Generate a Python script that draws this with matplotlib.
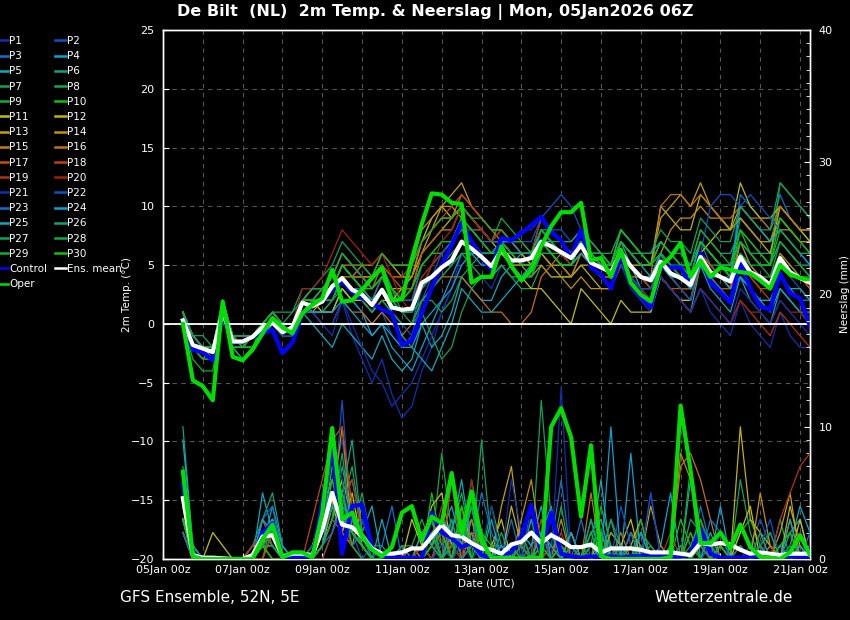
import matplotlib.pyplot as plt
import matplotlib.dates as mdates
from matplotlib.lines import Line2D
from datetime import datetime, timedelta

# 6-hourly output, first step 05Jan 12Z, last 21Jan 06Z
run_start = datetime(2026, 1, 5, 12)
times = [run_start + timedelta(hours=6 * i) for i in range(64)]

# --- main runs: 2m temperature (degC) ---
oper_temp = [0.0, -4.8, -5.3, -6.5, 1.9, -2.8, -3.1, -2.2, -0.8, 0.5, -0.3, -0.8, 0.9, 1.6, 2.2, 4.6,
             1.9, 2.0, 2.9, 3.9, 4.8, 2.0, 2.1, 5.5, 8.5, 11.1, 11.0, 10.3, 10.2, 3.5, 4.0, 4.0,
             6.6, 4.9, 3.7, 4.6, 6.6, 8.3, 9.5, 9.5, 10.3, 5.4, 5.6, 4.0, 6.3, 3.5, 2.5, 1.9,
             4.9, 5.7, 6.9, 4.0, 5.4, 4.0, 4.8, 4.6, 4.4, 4.3, 3.7, 3.0, 5.0, 4.2, 3.9, 3.7]
control_temp = [0.3, -2.2, -2.4, -3.1, 0.6, -1.6, -1.5, -1.1, -0.8, -0.5, -2.5, -1.6, 0.9, 1.5, 1.9, 2.9,
                3.6, 2.7, 2.2, 1.8, 1.2, 0.9, -1.8, -1.4, 0.9, 3.1, 5.0, 6.7, 8.6, 7.0, 5.7, 4.6,
                7.3, 7.1, 7.7, 8.4, 9.1, 7.8, 7.1, 5.6, 8.0, 4.8, 4.2, 3.0, 5.9, 3.5, 2.3, 1.4,
                4.8, 4.8, 4.8, 3.3, 6.0, 3.5, 2.7, 1.8, 5.3, 3.0, 1.5, 1.2, 4.3, 2.6, 2.2, -0.2]
mean_temp = [0.3, -1.8, -2.1, -2.4, 1.0, -1.5, -1.5, -1.1, -0.3, 0.1, -0.7, -0.3, 1.8, 1.5, 1.9, 3.2,
             3.9, 2.9, 2.5, 1.6, 2.9, 1.4, 1.2, 1.3, 3.5, 4.0, 4.8, 5.4, 7.0, 6.4, 5.7, 4.9,
             6.3, 5.4, 5.4, 5.6, 7.0, 6.6, 6.1, 5.6, 6.7, 5.2, 4.8, 4.4, 6.1, 4.9, 4.0, 3.7,
             5.3, 4.3, 3.9, 3.3, 5.7, 4.4, 4.0, 3.6, 5.7, 4.4, 4.0, 3.3, 5.6, 4.4, 3.9, 3.5]

# --- main runs: precipitation (mm / 6h) ---
oper_precip = [6.6, 0.2, 0.0, 0.0, 0.0, 0.0, 0.0, 0.0, 1.5, 2.6, 0.1, 0.5, 0.5, 0.1, 3.5, 9.9,
               3.0, 3.5, 1.7, 0.7, 0.2, 0.9, 3.5, 4.0, 1.4, 3.2, 2.7, 6.5, 1.9, 5.1, 1.4, 0.1,
               0.1, 0.1, 0.0, 0.1, 0.1, 10.0, 11.4, 9.2, 3.2, 8.6, 0.2, 0.0, 0.0, 0.0, 0.0, 0.0,
               0.0, 0.15, 11.6, 6.7, 1.2, 1.2, 2.0, 0.8, 2.6, 0.9, 0.15, 0.1, 0.0, 0.5, 1.8, 0.3]
control_precip = [5.7, 0.4, 0.1, 0.0, 0.0, 0.0, 0.0, 0.0, 2.0, 2.7, 0.0, 0.1, 0.05, 0.0, 4.2, 8.8,
                  0.4, 4.0, 4.1, 0.9, 0.2, 0.1, 0.1, 0.1, 0.0, 3.5, 2.0, 1.6, 0.9, 1.2, 0.3, 0.1,
                  0.2, 0.5, 1.7, 4.1, 0.4, 3.5, 0.4, 0.2, 0.1, 0.2, 0.1, 0.2, 0.1, 0.2, 0.2, 0.3,
                  0.2, 0.2, 0.2, 0.4, 2.3, 0.4, 0.1, 0.1, 0.1, 0.2, 0.1, 0.1, 0.1, 0.2, 0.1, 0.1]
mean_precip = [4.6, 0.3, 0.1, 0.1, 0.05, 0.0, 0.0, 0.3, 1.7, 1.8, 0.2, 0.4, 0.4, 0.3, 2.2, 5.0,
               2.6, 2.4, 1.7, 0.8, 0.4, 0.4, 0.5, 0.8, 0.8, 1.7, 2.6, 1.8, 1.7, 1.2, 0.8, 0.7,
               0.4, 1.1, 1.3, 2.0, 1.2, 1.8, 1.4, 0.9, 0.9, 1.1, 0.5, 0.8, 0.8, 0.8, 0.7, 0.5,
               0.5, 0.5, 0.4, 0.3, 1.2, 1.1, 1.2, 1.1, 0.7, 0.4, 0.5, 0.4, 0.3, 0.4, 0.4, 0.4]

# --- perturbed members P1..P30: 2m temperature ---
member_temp = [
    [1,-2,-3,-3, 2,-1,-2,-2, -1,0,-1,-1, 2,1,0,-1, 2,-1,-3,-5, -3,-6,-8,-7, -4,-2,1,3, 6,5,4,3,
     5,4,4,5, 8,7,6,5, 7,5,4,3, 5,3,2,1, 4,3,2,1, 3,1,0,-1, 2,0,-1,-2, 1,-1,-2,-2],  # P1
    [0,-2,-2,-3, 1,-2,-2,-2, 0,1,0,-1, 2,2,1,1, 3,2,1,0, 1,-1,-2,-1, 2,3,4,5, 7,6,5,5,
     7,6,5,6, 9,8,8,7, 8,6,5,4, 6,5,4,3, 5,4,4,3, 6,5,4,3, 7,5,4,3, 5,4,3,2],  # P2
    [0,-1,-2,-2, 1,-1,-1,-1, 0,0,0,0, 1,1,1,2, 4,3,2,1, 2,1,0,0, 3,5,6,7, 9,8,7,6,
     7,6,5,5, 8,7,6,5, 6,5,4,3, 6,4,3,2, 6,5,4,4, 7,5,4,4, 11,10,9,8, 11,9,8,7],  # P3
    [1,-1,-2,-2, 1,-2,-3,-2, -1,0,0,0, 2,1,1,1, 3,2,1,-1, 0,-2,-3,-4, -2,0,2,4, 6,6,5,5,
     6,5,4,4, 6,6,5,5, 7,6,5,4, 6,5,4,3, 4,3,2,2, 5,4,3,2, 4,3,2,1, 3,2,1,0],  # P4
    [1,-1,-2,-2, 1,-1,-2,-1, 0,0,-1,-1, 1,0,-1,-2, 0,-1,-2,-3, -1,-3,-4,-3, 0,-2,-1,1, 4,3,2,2,
     4,5,6,6, 8,7,6,5, 7,6,5,4, 7,5,3,2, 4,3,2,1, 5,3,2,1, 4,2,1,0, 3,2,1,1],  # P5
    [0,-2,-2,-2, 1,-1,-2,-1, 0,1,0,0, 2,3,3,4, 6,5,4,3, 4,2,1,1, 3,4,5,5, 7,7,6,6,
     7,6,6,6, 8,7,6,6, 7,6,5,5, 8,7,6,5, 7,6,6,5, 8,7,6,6, 8,7,6,6, 9,8,7,6],  # P6
    [1,-1,-1,-2, 2,-1,-2,-1, 0,1,0,1, 3,3,4,5, 7,6,5,4, 5,3,1,0, 1,-1,-3,-2, 1,3,4,4,
     5,4,3,3, 5,4,4,4, 6,5,5,4, 6,5,4,4, 6,5,4,4, 7,6,5,5, 9,8,7,7, 10,9,8,8],  # P7
    [0,-2,-3,-3, 1,-2,-2,-1, 0,0,0,0, 2,2,2,3, 5,4,4,3, 5,3,2,2, 5,6,6,7, 9,8,8,7,
     9,8,7,6, 8,7,6,5, 6,5,4,3, 5,4,3,3, 5,4,3,3, 6,5,5,4, 7,6,5,5, 12,11,10,9],  # P8
    [0,-3,-4,-4, 1,-2,-3,-2, -1,0,-1,-1, 1,1,1,2, 3,2,2,1, 3,2,2,3, 6,7,8,8, 10,9,8,7,
     7,6,5,5, 7,6,5,5, 7,6,5,4, 6,5,4,4, 6,4,3,3, 5,4,3,3, 6,5,4,4, 6,5,4,4],  # P9
    [1,-2,-3,-3, 1,-2,-2,-2, -1,0,-1,-1, 1,2,2,3, 5,4,3,3, 4,3,2,3, 5,6,6,7, 8,7,6,6,
     6,5,5,5, 7,6,6,6, 7,6,6,5, 7,6,5,5, 6,5,4,4, 7,6,5,5, 8,6,5,5, 7,6,5,4],  # P10
    [0,-1,-2,-2, 1,-1,-1,-1, 0,0,0,0, 2,2,1,1, 3,2,2,1, 2,2,3,4, 7,9,10,9, 10,9,8,7,
     6,5,4,3, 3,2,1,0, 3,2,1,0, 2,1,1,1, 4,3,2,2, 6,7,8,8, 12,10,9,9, 10,9,8,7],  # P11
    [0,-2,-2,-2, 1,-1,-1,-1, 0,1,0,0, 2,3,3,3, 5,4,4,4, 6,5,4,4, 6,7,8,9, 10,9,8,7,
     7,6,6,5, 6,5,4,4, 5,4,3,3, 6,5,5,5, 10,9,8,8, 11,10,9,8, 9,8,7,6, 10,9,8,8],  # P12
    [0,-2,-3,-2, 2,-1,-2,-1, 0,0,0,-1, 1,1,2,2, 4,3,3,2, 4,3,3,3, 6,8,10,11, 12,10,9,8,
     8,7,6,5, 6,5,5,4, 5,5,4,4, 7,6,5,5, 9,10,11,10, 12,10,9,8, 10,9,8,7, 9,8,7,7],  # P13
    [1,-1,-2,-2, 2,-1,-1,-1, 0,0,0,0, 2,2,2,2, 4,4,5,5, 6,5,5,5, 8,9,10,10, 9,8,7,6,
     6,5,5,4, 5,4,4,3, 4,3,3,3, 5,4,4,4, 6,8,9,9, 10,9,9,8, 9,8,7,7, 8,8,7,7],  # P14
    [0,-2,-2,-3, 1,-2,-2,-2, -1,0,0,0, 1,2,2,3, 5,5,4,4, 5,4,4,4, 7,8,9,9, 11,10,9,8,
     7,6,5,5, 7,6,5,4, 6,5,4,4, 6,5,4,3, 5,4,4,3, 6,5,4,3, 7,5,4,3, 6,5,4,3],  # P15
    [0,-2,-3,-3, 2,-1,-2,-1, 0,0,-1,0, 2,1,0,0, 2,1,1,0, 1,0,-1,0, 2,3,4,4, 4,3,2,1,
     1,0,0,1, 4,5,6,6, 7,6,5,4, 6,5,4,4, 10,11,11,10, 11,10,9,9, 10,9,9,8, 10,9,8,8],  # P16
    [1,-1,-2,-2, 2,-1,-2,-1, 0,1,0,0, 2,2,3,3, 5,4,4,3, 5,4,3,3, 6,7,8,8, 10,9,8,7,
     8,7,6,6, 8,7,6,5, 6,5,4,4, 5,4,3,3, 4,3,3,2, 5,4,3,3, 5,4,3,3, 5,4,4,3],  # P17
    [1,-1,-2,-2, 2,-1,-1,-1, 0,0,0,0, 2,2,3,4, 6,5,5,4, 5,4,4,5, 7,8,9,10, 11,10,9,8,
     8,7,7,6, 9,8,7,6, 8,6,5,5, 6,5,4,4, 5,4,3,3, 6,5,4,3, 5,4,3,2, 4,3,2,2],  # P18
    [0,-2,-2,-2, 1,-1,-2,-1, 0,0,0,0, 2,2,3,4, 6,5,4,3, 4,3,2,2, 4,5,6,7, 9,8,8,7,
     8,7,6,6, 9,8,7,7, 8,7,6,5, 6,5,4,3, 4,3,2,1, 3,2,1,0, 2,1,0,-1, 1,0,-1,-2],  # P19
    [0,-2,-3,-3, 1,-2,-2,-2, -1,0,0,0, 3,3,4,6, 8,7,6,5, 6,4,2,1, 3,5,7,8, 10,9,8,7,
     7,7,6,6, 8,7,6,5, 6,5,4,3, 5,4,3,2, 4,3,2,1, 3,2,1,0, 2,1,1,0, 2,1,1,0],  # P20
    [1,-2,-3,-3, 1,-2,-2,-1, 0,0,-1,-1, 1,1,0,0, 2,0,-2,-4, -5,-7,-6,-5, -3,-1,1,3, 5,6,6,6,
     7,7,8,8, 9,8,7,6, 7,6,5,4, 5,4,3,3, 4,3,2,1, 3,2,1,0, 3,2,1,0, 2,1,0,-1],  # P21
    [0,-2,-2,-2, 1,-1,-2,-1, 0,0,-1,0, 1,2,2,2, 4,3,2,1, 3,1,0,-1, 2,4,6,7, 9,8,7,6,
     7,7,7,7, 9,10,11,10, 8,6,5,4, 5,4,3,3, 5,4,3,2, 6,10,11,11, 10,11,10,9, 8,7,6,5],  # P22
    [1,-1,-2,-2, 2,-1,-1,-1, 0,1,0,0, 2,2,2,2, 4,3,3,2, 4,3,2,2, 5,6,7,7, 8,8,7,7,
     7,6,6,6, 8,7,6,6, 7,6,5,5, 7,6,5,4, 6,5,4,3, 5,4,3,2, 4,3,2,2, 4,3,2,2],  # P23
    [0,-2,-2,-3, 1,-2,-2,-2, -1,0,0,-1, 1,1,1,1, 2,1,0,-1, 0,-1,-2,-2, 0,1,2,3, 5,6,6,6,
     7,7,6,6, 7,7,6,6, 7,6,6,5, 8,7,6,6, 7,6,5,5, 7,6,5,4, 10,9,8,7, 8,7,6,5],  # P24
    [1,-1,-2,-2, 2,-1,-1,-1, 0,0,0,0, 2,2,2,3, 5,4,3,2, 3,1,-1,-2, -3,-4,-2,0, 3,2,1,1,
     2,3,4,5, 7,6,5,5, 6,5,5,4, 6,5,4,4, 5,4,4,3, 5,4,4,3, 4,3,2,2, 4,3,3,2],  # P25
    [0,-2,-2,-2, 1,-1,-2,-1, 0,0,0,0, 2,2,3,3, 5,4,3,2, 3,2,1,1, 3,4,5,6, 7,7,6,6,
     6,6,6,6, 8,8,7,7, 8,7,6,5, 7,6,5,4, 6,5,5,4, 7,6,5,5, 7,6,6,5, 7,6,5,5],  # P26
    [1,-1,-2,-2, 1,-1,-1,-1, 0,1,1,1, 2,3,3,4, 6,5,4,3, 4,2,1,1, 2,2,1,2, 4,5,6,6,
     7,6,6,6, 8,7,6,6, 8,7,6,6, 8,7,6,6, 8,7,7,6, 9,8,7,7, 10,9,8,8, 12,11,10,9],  # P27
    [0,-2,-2,-2, 1,-2,-2,-1, 0,0,0,0, 1,2,2,2, 4,3,2,1, 2,1,0,0, 2,3,4,5, 6,5,4,4,
     5,4,4,4, 6,6,5,5, 7,6,6,5, 7,6,5,5, 6,5,4,4, 7,6,5,4, 6,5,5,4, 7,6,5,4],  # P28
    [0,-2,-3,-3, 2,-1,-2,-1, 0,1,0,0, 2,2,3,4, 6,5,5,4, 6,5,5,5, 7,8,9,9, 10,9,9,8,
     8,7,7,6, 8,7,7,6, 7,6,6,5, 7,6,6,5, 7,6,5,5, 8,7,6,5, 7,6,5,5, 8,7,6,6],  # P29
    [1,-2,-2,-2, 1,-2,-2,-2, 0,0,0,0, 2,2,2,3, 5,4,3,3, 4,3,2,3, 5,6,7,7, 9,8,7,6,
     6,6,5,5, 7,6,5,5, 7,6,5,5, 8,7,6,5, 7,6,5,4, 7,6,5,4, 8,7,6,5, 9,8,7,6],  # P30
]

# --- perturbed members P1..P30: precipitation ---
member_precip = [
    [3,0,0,0, 0,0,0,1, 2,1,0,0, 0,0,2,6, 9,3,1,0, 0,0,1,0, 0,1,2,1, 0,0,1,0,
     0,0,1,3, 1,0,0,1, 0,0,2,1, 0,0,0,1, 0,0,0,0, 0,1,2,0, 0,0,1,0, 0,0,0,1],
    [4,1,0,0, 0,0,0,0, 1,3,0,0, 0,0,1,3, 12,2,1,1, 0,0,0,0, 1,0,3,1, 2,1,0,0,
     0,0,0,0, 1,2,0,0, 0,0,1,0, 0,0,0,0, 0,0,1,0, 0,0,0,0, 0,1,3,1, 0,0,0,0],
    [2,0,0,0, 0,0,0,0, 3,2,0,0, 0,1,3,5, 2,4,1,0, 0,0,0,1, 0,2,1,3, 0,1,0,0,
     0,1,0,0, 2,1,6,0, 0,0,0,2, 1,0,0,0, 0,0,0,0, 4,1,0,0, 1,0,0,2, 0,0,1,0],
    [5,1,0,0, 0,0,0,0, 1,4,1,0, 0,0,1,4, 6,2,3,1, 0,0,0,0, 1,0,2,4, 1,3,1,0,
     0,1,1,0, 2,4,0,1, 0,3,0,1, 0,8,0,0, 1,5,0,0, 2,0,1,0, 0,0,0,1, 0,2,3,0],
    [2,0,0,0, 0,0,0,0, 5,2,0,0, 0,0,0,2, 5,6,2,4, 0,0,1,0, 0,0,0,2, 1,4,0,0,
     1,0,0,3, 0,1,0,0, 0,1,6,0, 0,2,0,0, 0,0,0,6, 0,1,2,0, 0,0,0,0, 0,1,4,2],
    [10,1,0,0, 0,0,0,1, 3,5,1,0, 0,0,1,3, 7,3,2,1, 1,0,0,0, 1,2,3,1, 0,2,0,1,
     0,0,1,0, 0,1,0,1, 0,0,0,0, 0,0,2,1, 0,0,0,3, 2,0,0,0, 0,0,0,0, 1,0,0,0],
    [3,0,0,0, 0,0,0,0, 2,1,0,0, 0,0,4,8, 3,2,5,1, 0,0,0,0, 0,2,1,0, 2,0,9,1,
     1,0,0,0, 12,3,1,0, 0,0,0,0, 0,1,0,0, 0,0,0,0, 0,0,1,0, 6,2,0,0, 1,2,0,0],
    [4,1,0,0, 0,0,0,0, 1,1,0,0, 0,0,2,5, 4,7,2,0, 0,0,1,1, 3,1,8,2, 5,1,0,0,
     0,0,2,1, 2,0,4,0, 0,0,0,3, 1,0,2,0, 0,0,0,1, 3,0,0,0, 0,0,1,0, 0,0,0,0],
    [6,0,0,0, 0,0,0,0, 0,3,0,0, 0,0,1,3, 5,2,1,0, 0,0,0,0, 0,3,1,2, 1,6,2,0,
     0,0,0,0, 1,0,0,0, 1,0,4,1, 0,0,0,0, 0,1,0,7, 1,0,0,0, 0,0,0,0, 3,0,1,0],
    [3,0,0,0, 0,0,0,0, 2,3,0,0, 0,1,3,8, 3,4,1,0, 0,0,0,0, 0,5,1,0, 2,3,0,4,
     1,0,0,0, 2,0,1,0, 0,1,2,0, 0,0,0,0, 0,0,3,1, 0,0,0,0, 2,3,1,0, 0,0,0,0],
    [2,0,0,2, 1,0,0,0, 1,2,0,0, 0,0,2,4, 2,5,1,0, 0,0,0,3, 1,4,5,1, 0,2,0,1,
     3,0,2,0, 0,1,0,2, 0,0,0,0, 1,3,0,0, 0,0,1,0, 0,0,0,0, 2,4,0,0, 1,0,3,0],
    [3,1,0,0, 0,0,0,0, 1,1,0,0, 0,0,1,3, 6,3,2,0, 0,0,0,0, 0,1,3,0, 4,1,0,0,
     0,4,1,0, 0,0,0,0, 0,0,2,0, 0,1,3,0, 0,0,0,0, 0,0,0,0, 10,3,2,1, 0,4,1,0],
    [2,0,0,0, 0,0,0,1, 1,3,0,0, 0,0,3,9, 2,1,4,1, 0,0,0,0, 1,0,2,0, 1,5,2,0,
     4,7,1,0, 0,0,0,2, 0,0,1,0, 0,0,0,4, 1,0,0,0, 0,0,1,0, 0,0,0,0, 2,5,0,0],
    [4,0,0,0, 0,0,0,0, 1,0,0,0, 0,0,1,4, 10,2,1,0, 0,0,0,0, 0,1,3,0, 1,2,0,0,
     1,0,3,6, 1,0,0,0, 0,0,0,2, 1,0,0,0, 0,0,0,0, 1,0,2,0, 0,0,5,1, 0,0,0,0],
    [3,1,0,0, 0,0,0,0, 0,2,0,0, 0,1,4,6, 3,2,1,0, 0,0,0,0, 2,3,0,1, 2,0,0,0,
     0,1,0,0, 0,0,3,0, 0,0,0,0, 0,2,1,0, 0,0,8,6, 2,0,0,0, 0,0,0,0, 0,3,0,0],
    [2,0,0,0, 0,0,0,0, 1,2,0,0, 0,0,2,10, 3,1,0,0, 0,0,0,1, 0,0,2,0, 0,3,0,0,
     0,0,1,2, 0,0,0,0, 0,5,0,0, 2,0,1,0, 0,0,7,8, 6,3,0,0, 0,0,0,1, 0,0,0,0],
    [5,0,0,0, 0,0,0,0, 3,1,0,0, 0,0,1,3, 2,1,2,0, 0,0,0,0, 0,3,0,1, 0,2,1,0,
     0,0,0,1, 2,0,0,0, 1,0,0,0, 0,1,0,0, 0,0,0,2, 0,1,0,0, 0,0,2,0, 0,0,1,0],
    [3,0,0,0, 0,0,0,0, 0,2,0,0, 0,3,6,9, 10,4,1,0, 0,0,0,0, 0,3,0,6, 0,1,2,0,
     0,0,1,0, 3,0,0,0, 0,1,0,0, 0,0,0,0, 0,0,1,0, 3,0,0,0, 1,0,0,0, 0,0,0,0],
    [2,0,0,0, 0,0,0,1, 2,1,0,0, 0,0,0,2, 4,6,2,0, 0,0,0,0, 0,1,4,0, 0,1,0,0,
     0,0,0,0, 1,0,2,0, 0,0,0,0, 0,1,0,0, 0,2,0,0, 1,0,0,0, 0,0,0,0, 3,5,7,8],
    [4,0,0,0, 0,0,0,0, 1,1,0,0, 0,0,5,8, 3,1,0,0, 0,0,0,0, 1,0,2,1, 0,6,0,0,
     0,0,1,0, 0,1,0,0, 0,0,0,0, 1,0,0,0, 0,0,1,0, 0,0,0,0, 0,0,1,0, 0,1,2,0],
    [5,1,0,0, 0,0,0,0, 2,1,0,0, 0,0,2,9, 6,2,3,1, 0,0,0,0, 0,2,1,0, 1,0,1,4,
     0,6,2,0, 0,0,13,0, 0,2,1,0, 0,0,0,5, 0,0,0,0, 0,0,2,0, 1,0,0,0, 0,1,0,0],
    [3,0,0,0, 0,0,0,0, 1,2,0,0, 0,1,2,4, 5,2,0,1, 0,0,0,0, 0,0,1,0, 0,1,2,0,
     0,0,0,4, 1,3,0,0, 0,0,0,0, 4,1,0,5, 0,0,0,0, 0,1,2,0, 0,0,1,3, 0,0,0,0],
    [2,0,0,0, 0,0,0,0, 3,4,0,0, 0,0,1,2, 4,1,2,0, 1,4,0,0, 0,1,0,0, 2,1,5,2,
     0,3,0,1, 2,0,1,0, 3,0,1,0, 0,2,0,0, 0,0,0,0, 0,3,2,0, 0,0,0,0, 1,0,0,2],
    [3,0,0,0, 0,0,0,0, 2,3,1,0, 0,0,1,5, 4,3,1,0, 0,0,0,0, 2,1,3,2, 1,4,1,0,
     1,0,2,1, 4,0,0,2, 0,1,0,10, 0,0,2,0, 0,0,0,0, 0,0,4,0, 0,0,1,0, 0,0,1,0],
    [9,1,0,0, 0,0,0,0, 3,2,0,0, 0,0,2,7, 5,2,1,0, 3,0,0,0, 0,1,0,2, 6,1,0,3,
     0,1,0,0, 2,1,0,0, 0,2,3,0, 1,0,0,0, 0,0,0,0, 0,2,0,0, 0,0,0,0, 0,3,0,0],
    [3,0,0,0, 0,0,0,0, 1,1,0,0, 0,0,2,4, 5,9,2,1, 0,0,0,0, 0,2,0,3, 0,1,0,0,
     2,0,0,0, 1,2,0,0, 0,0,0,3, 0,0,1,0, 0,1,0,0, 0,0,0,0, 1,0,2,0, 0,0,0,0],
    [4,0,0,0, 0,0,0,0, 2,1,0,0, 0,0,1,3, 8,2,1,0, 0,0,0,0, 0,1,0,1, 3,0,0,0,
     0,0,1,0, 0,0,0,1, 0,3,0,0, 0,0,0,1, 0,0,0,0, 1,0,0,0, 0,0,0,0, 0,1,0,0],
    [3,1,0,0, 0,0,0,0, 2,2,0,0, 0,0,2,5, 3,3,1,0, 0,0,0,0, 0,3,0,1, 2,4,0,1,
     0,0,2,0, 0,0,0,0, 0,1,2,0, 0,0,3,0, 0,0,1,0, 0,0,0,0, 0,0,1,2, 0,0,0,0],
    [7,0,0,0, 0,0,0,0, 1,2,0,0, 0,0,1,3, 5,1,0,0, 0,0,0,0, 0,2,0,0, 3,1,2,0,
     0,1,0,0, 0,0,1,0, 0,0,0,0, 0,0,0,0, 0,0,0,0, 3,1,0,0, 0,0,0,0, 0,0,0,0],
    [3,0,0,0, 0,0,0,0, 1,0,0,0, 0,0,2,6, 3,2,1,0, 0,0,0,0, 0,1,2,0, 4,0,2,1,
     0,0,0,0, 1,0,1,0, 0,2,0,0, 0,1,0,0, 0,0,0,2, 0,0,1,0, 0,0,0,0, 1,2,0,0],
]

# P1..P20 palette, P21..P30 reuse P1..P10
palette = ['#1030b0', '#1050c0', '#1070c8', '#10a0d0', '#10a8b8', '#10a080', '#10a060',
           '#10a848', '#10b030', '#10c010', '#c0c010', '#c0b010', '#c0a010', '#c09010',
           '#c08010', '#c07010', '#c05010', '#c04010', '#b03020', '#a02010']
member_colors = palette + palette[:10]
member_names = ['P%d' % (i + 1) for i in range(30)]
control_color = '#0000ff'
oper_color = '#00dd00'
mean_color = '#ffffff'

plt.rcParams['font.family'] = 'DejaVu Sans'
fig = plt.figure(figsize=(8.5, 6.2), dpi=100, facecolor='black')
ax = fig.add_axes([163 / 850, 61 / 620, 647 / 850, 529 / 620])
ax.set_facecolor('black')
ax2 = ax.twinx()
ax2.patch.set_visible(False)

for vals, col in zip(member_temp, member_colors):
    ax.plot(times, vals, color=col, lw=0.9, zorder=3)
for vals, col in zip(member_precip, member_colors):
    ax2.plot(times, vals, color=col, lw=0.9, zorder=3)

ax.axhline(0, color='white', lw=1.3, zorder=4)

ax.plot(times, control_temp, color=control_color, lw=3.0, zorder=5)
ax.plot(times, mean_temp, color=mean_color, lw=3.0, zorder=6)
ax.plot(times, oper_temp, color=oper_color, lw=3.0, zorder=7)
ax2.plot(times, control_precip, color=control_color, lw=3.0, zorder=5)
ax2.plot(times, mean_precip, color=mean_color, lw=3.0, zorder=6)
ax2.plot(times, oper_precip, color=oper_color, lw=3.0, zorder=7)

ax.set_xlim(datetime(2026, 1, 5, 0), datetime(2026, 1, 21, 6))
ax.set_ylim(-20, 25)
ax2.set_ylim(0, 40)

ax.xaxis.set_major_locator(mdates.DayLocator(bymonthday=range(1, 32, 2)))
ax.xaxis.set_minor_locator(mdates.DayLocator())
ax.xaxis.set_major_formatter(mdates.DateFormatter('%d%b %Hz'))
ax.set_yticks(range(-20, 26, 5))
ax2.set_yticks(range(0, 41, 10))
ax2.set_yticks(range(0, 41, 1), minor=True)

ax.grid(True, which='both', axis='x', color='#555555', ls=(0, (4, 4)), lw=0.8)
ax.grid(True, which='major', axis='y', color='#555555', ls=(0, (4, 4)), lw=0.8)

for a in (ax, ax2):
    for sp in a.spines.values():
        sp.set_color('white')
        sp.set_linewidth(1.0)
    a.tick_params(colors='white', labelsize=8, direction='in', length=4, pad=6)
    a.tick_params(which='minor', colors='white', direction='in', length=3)
ax.tick_params(axis='x', which='minor', length=0)
ax.tick_params(axis='x', pad=4)

ax.set_xlabel('Date (UTC)', color='white', fontsize=7.5, labelpad=3)
ax.set_ylabel('2m Temp. (°C)', color='white', fontsize=7.5)
ax2.set_ylabel('Neerslag (mm)', color='white', fontsize=7.5)
ax.yaxis.set_label_coords((132 - 163) / 647, 0.5)
ax2.yaxis.set_label_coords((840 - 163) / 647, 0.5)

fig.text(0.512, 0.981, 'De Bilt  (NL)  2m Temp. & Neerslag | Mon, 05Jan2026 06Z',
         color='white', fontsize=11.5, fontweight='bold', ha='center', va='center')
fig.text(120 / 850, 1 - 598 / 620, 'GFS Ensemble, 52N, 5E', color='white',
         fontsize=11, ha='left', va='center')
fig.text(793 / 850, 1 - 598 / 620, 'Wetterzentrale.de', color='white',
         fontsize=11, ha='right', va='center')

# legend reads row-wise in two columns, so feed it column-major
handles = [Line2D([], [], color=c, lw=1.8) for c in member_colors]
labels = list(member_names)
handles += [Line2D([], [], color=control_color, lw=1.8),
            Line2D([], [], color=mean_color, lw=1.8),
            Line2D([], [], color=oper_color, lw=1.8)]
labels += ['Control', 'Ens. mean', 'Oper']
order = list(range(0, 30, 2)) + [30, 32] + list(range(1, 30, 2)) + [31]
leg = fig.legend([handles[i] for i in order], [labels[i] for i in order],
                 loc='upper left', bbox_to_anchor=(-2 / 850, 1 - 36 / 620), ncol=2,
                 fontsize=7.5, frameon=False, handlelength=1.0, handletextpad=0.1,
                 columnspacing=0.75, labelspacing=0.5, borderaxespad=0, borderpad=0)
for t in leg.get_texts():
    t.set_color('white')

fig.savefig('out.png', dpi=100, facecolor='black')
